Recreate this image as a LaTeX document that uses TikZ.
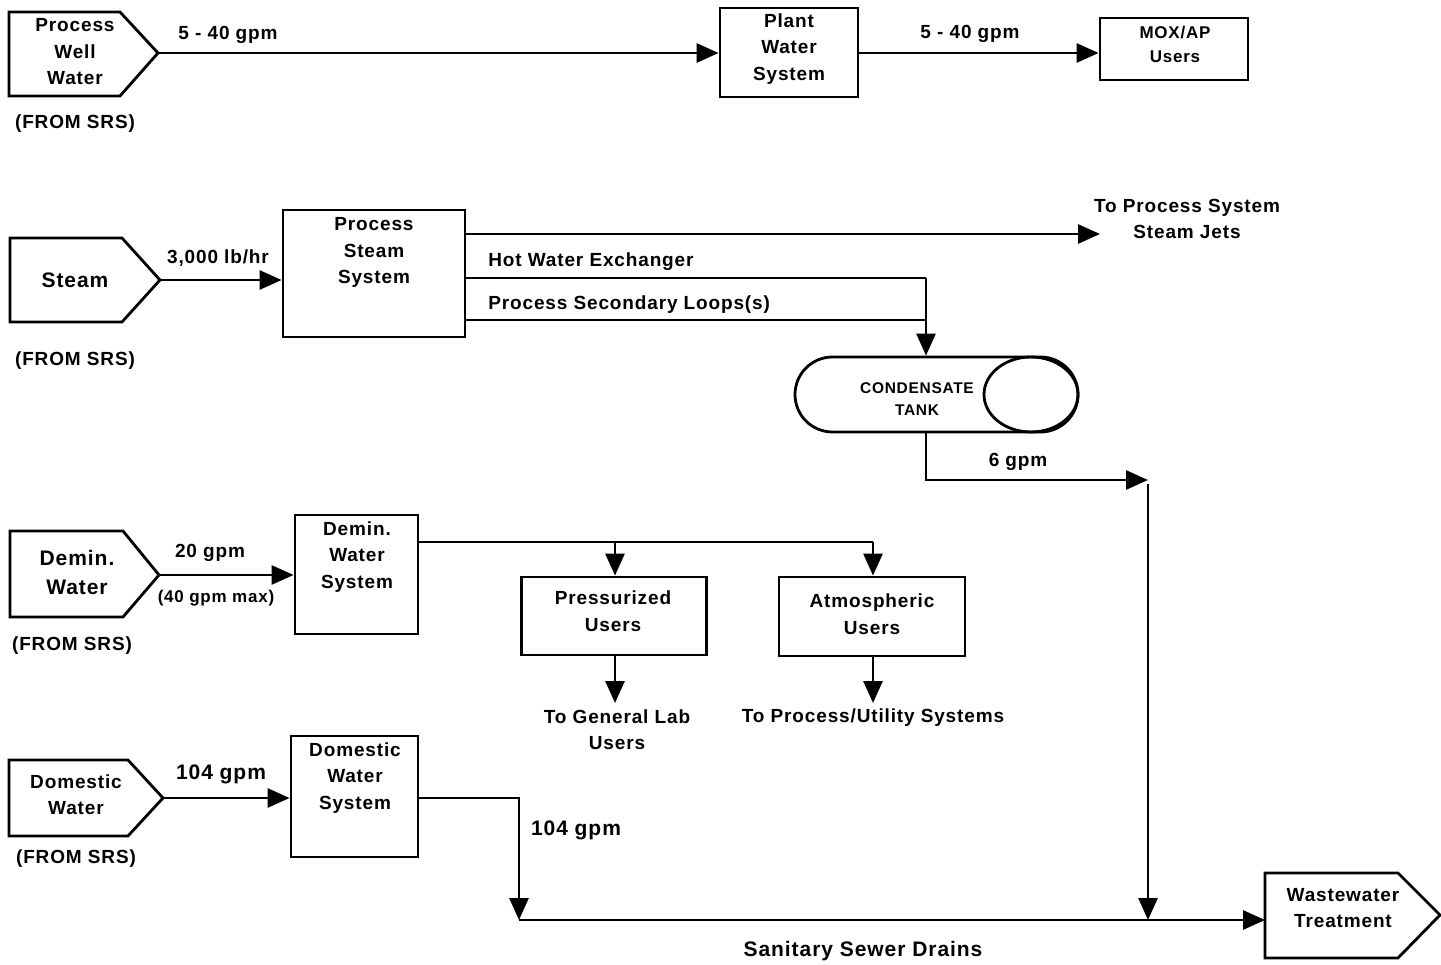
\documentclass[tikz,border=0pt]{standalone}
\usepackage{fontspec}
\setmainfont[LetterSpace=4.5]{Liberation Sans}
\usetikzlibrary{arrows.meta}
\begin{document}
\begin{tikzpicture}[x=1pt,y=-1pt,line width=2.8pt,line join=miter,
  box/.style={draw,line width=2.8pt,inner sep=0pt},
  src/.style={draw,line width=2.8pt},
  txt/.style={align=center,inner sep=0pt,font=\bfseries\fontsize{19}{26.5}\selectfont},
  txtbig/.style={align=center,inner sep=0pt,font=\bfseries\fontsize{21}{29}\selectfont},
  txtsmall/.style={align=center,inner sep=0pt,font=\bfseries\fontsize{15.5}{22}\selectfont},
  txtmid/.style={align=center,inner sep=0pt,font=\bfseries\fontsize{17}{24}\selectfont},
  flow/.style={-{Triangle[length=22pt,width=19pt]},line width=2.8pt}]
\useasboundingbox (0,0) rectangle (1441,965);

% ---------- process well water ----------
\draw[src] (9,12) -- (120,12) -- (158,53) -- (120,96) -- (9,96) -- cycle;
\coordinate (pwwTip) at (158,53);
\node[txt] (pwwT) at (75,52) {Process\\Well\\Water};
\node[txt] (pwwF) at (75,124) {(FROM SRS)};
\node[box,minimum width=138pt,minimum height=89pt] (pws) at (789,52.5) {};
\node[txt] (pwsT) at (789,49) {Plant\\Water\\System};
\node[box,minimum width=148pt,minimum height=62pt] (mox) at (1174,49) {};
\node[txtmid] (moxT) at (1175,44) {MOX/AP\\Users};
\draw[flow] (pwwTip) -- (pwwTip -| pws.west);
\draw[flow] (pwwTip -| pws.east) -- (pwwTip -| mox.west);
\node[txt] (l1) at (228,35) {5 - 40 gpm};
\node[txt] (l2) at (970,34) {5 - 40 gpm};

% ---------- steam ----------
\draw[src] (10,238) -- (122,238) -- (160,280) -- (122,322) -- (10,322) -- cycle;
\coordinate (stTip) at (160,280);
\node[txtbig] (stT) at (75,280) {Steam};
\node[txt] (stF) at (75,361) {(FROM SRS)};
\node[box,minimum width=182pt,minimum height=127pt] (pss) at (374,273.5) {};
\node[txt] (pssT) at (374,252.5) {Process\\Steam\\System};
\draw[flow] (stTip) -- (stTip -| pss.west);
\node[txt] (l3) at (218,258) {3,000 lb/hr};

\coordinate (jets) at (1100,234);
\draw[flow] (pss.east |- jets) -- (jets);
\node[txt] (jetsT) at (1187,219) {To Process System\\Steam Jets};

\node[draw,line width=2.8pt,rectangle,rounded corners=37.5pt,minimum width=283pt,minimum height=75pt] (tank) at (936.5,394.5) {};
\draw[line width=2.8pt] (1031,394.5) ellipse [x radius=47,y radius=37.5];
\node[txtsmall] (tankT) at (917,399.5) {CONDENSATE\\TANK};

\coordinate (hwJ) at (926,278);
\coordinate (loopJ) at (926,320);
\draw (pss.east |- hwJ) -- (hwJ);
\draw (pss.east |- loopJ) -- (loopJ);
\draw[flow] (hwJ) -- (hwJ |- tank.north);
\node[txt,anchor=west] (hwT) at (487,262) {Hot Water Exchanger};
\node[txt,anchor=west] (loopT) at (487,305) {Process Secondary Loops(s)};

\coordinate (tankOut) at (926,480);
\coordinate (j6) at (1148,480);
\draw[flow] (hwJ |- tank.south) -- (tankOut) -- (j6);
\node[txt] (l6) at (1018,462) {6 gpm};

% ---------- demineralized water ----------
\draw[src] (10,531) -- (123,531) -- (159,575) -- (123,617) -- (10,617) -- cycle;
\coordinate (dmTip) at (159,575);
\node[txtbig] (dmT) at (77,572.5) {Demin.\\Water};
\node[txt] (dmF) at (72,646) {(FROM SRS)};
\node[box,minimum width=123pt,minimum height=119pt] (dws) at (356.5,574.5) {};
\node[txt] (dwsT) at (357,557) {Demin.\\Water\\System};
\draw[flow] (dmTip) -- (dmTip -| dws.west);
\node[txt] (l20) at (210,553) {20 gpm};
\node[txtmid] (l40) at (216,598) {(40 gpm max)};

\node[box,minimum width=185pt,minimum height=78pt] (pu) at (614,616) {};
\node[txt] (puT) at (613,611) {Pressurized\\Users};
\node[box,minimum width=186pt,minimum height=79pt] (au) at (872,616.5) {};
\node[txt] (auT) at (872,614) {Atmospheric\\Users};
\coordinate (brP) at (615,542);
\coordinate (brA) at (873,542);
\draw (dws.east |- brA) -- (brA);
\draw[flow] (brP) -- (brP |- pu.north);
\draw[flow] (brA) -- (brA |- au.north);
\coordinate (puOut) at (615,703);
\coordinate (auOut) at (873,703);
\draw[flow] (puOut |- pu.south) -- (puOut);
\draw[flow] (auOut |- au.south) -- (auOut);
\node[txt] (puO) at (617,729.5) {To General Lab\\Users};
\node[txt] (auO) at (873,718) {To Process/Utility Systems};

% ---------- domestic water ----------
\draw[src] (9,760) -- (128,760) -- (163,798) -- (128,836) -- (9,836) -- cycle;
\coordinate (dwTip) at (163,798);
\node[txt] (dwT) at (76,794.5) {Domestic\\Water};
\node[txt] (dwF) at (76,859) {(FROM SRS)};
\node[box,minimum width=127pt,minimum height=121pt] (dom) at (354.5,796.5) {};
\node[txt] (domT) at (355,778) {Domestic\\Water\\System};
\draw[flow] (dwTip) -- (dwTip -| dom.west);
\node[txtbig] (l104a) at (221,774) {104 gpm};

% ---------- sanitary sewer ----------
\coordinate (sewStart) at (519,920);
\coordinate (sewJ) at (1148,920);
\draw[flow] (dwTip -| dom.east) -- (dwTip -| sewStart) -- (sewStart);
\node[txtbig] (l104b) at (576,830) {104 gpm};
\draw[src] (1265,873) -- (1398,873) -- (1440,915) -- (1398,958) -- (1265,958) -- cycle;
\coordinate (wwtIn) at (1265,920);
\node[txt] (wwtT) at (1343,908) {Wastewater\\Treatment};
\draw[flow] (sewStart) -- (wwtIn);
\draw[flow] ([yshift=-4pt]j6) -- (sewJ);
\node[txtbig] (sewT) at (863,951) {Sanitary Sewer Drains};
\end{tikzpicture}
\end{document}
